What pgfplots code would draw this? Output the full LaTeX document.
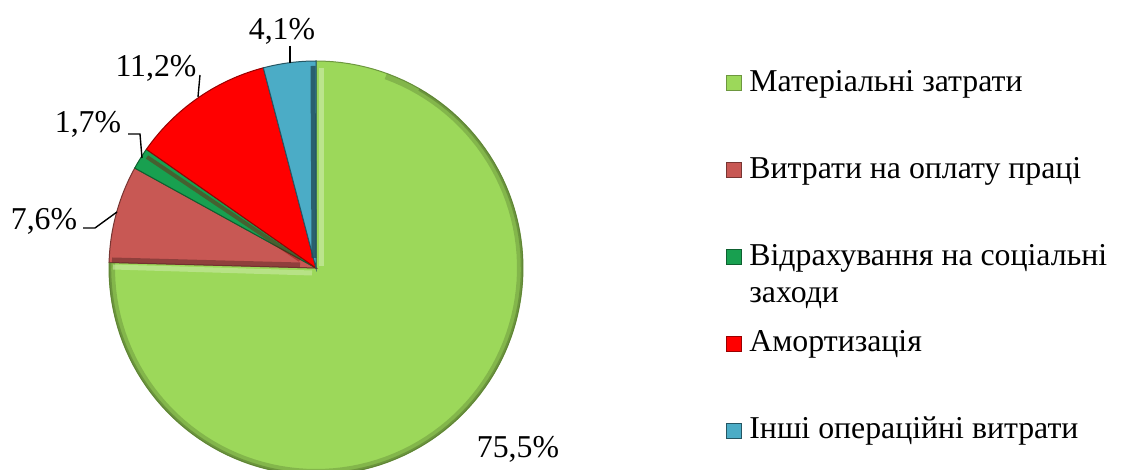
\documentclass[border=0pt]{standalone}
\usepackage{fontspec}
\setmainfont{Liberation Serif}
\usepackage{pgfplots}
\pgfplotsset{compat=1.18}
\definecolor{cGreen}{RGB}{156,216,90}
\definecolor{cBrown}{RGB}{200,88,84}
\definecolor{cDkGreen}{RGB}{24,160,80}
\definecolor{cRed}{RGB}{255,0,0}
\definecolor{cBlue}{RGB}{75,172,198}
\begin{document}
\begin{tikzpicture}[font=\fontsize{15.9}{18.5}\selectfont]
% shares, %
\def\vA{75.5}\def\vB{7.6}\def\vC{1.7}\def\vD{11.2}\def\vE{4.1}
\pgfmathsetmacro\tot{\vA+\vB+\vC+\vD+\vE}
\pgfmathsetmacro\aA{90-\vA/\tot*360}
\pgfmathsetmacro\aB{\aA-\vB/\tot*360}
\pgfmathsetmacro\aC{\aB-\vC/\tot*360}
\pgfmathsetmacro\aD{\aC-\vD/\tot*360}
\pgfmathsetmacro\aE{\aD-\vE/\tot*360}
\def\cx{316}\def\cy{202}\def\R{207}
\begin{axis}[
  name=ax,
  width=562.5pt, height=235pt, scale only axis,
  xmin=0, xmax=1125, ymin=0, ymax=470,
  hide axis,
  legend image code/.code={\fill[#1] (0pt,-5.5pt) rectangle (7.5pt,2pt);},
  legend style={at={(axis cs:726,405)}, anchor=north west, draw=none, fill=none,
     row sep=29pt, column sep=3.5pt, inner sep=0pt, cells={anchor=west},
     nodes={inner sep=0pt}},
  legend cell align=left,
]
\addplot[fill=cGreen, draw=cGreen!70!black, line width=0.5pt, domain=90:\aA, samples=120]
  ({\cx+\R*cos(x)},{\cy+\R*sin(x)}) -- (axis cs:\cx,\cy) -- cycle;
\addlegendentry{\strut Матеріальні затрати}
\addplot[fill=cBrown, draw=cBrown!60!black, line width=0.5pt, domain=\aA:\aB, samples=20]
  ({\cx+\R*cos(x)},{\cy+\R*sin(x)}) -- (axis cs:\cx,\cy) -- cycle;
\addlegendentry{\strut Витрати на оплату праці}
\addplot[fill=cDkGreen, draw=cDkGreen!60!black, line width=0.5pt, domain=\aB:\aC, samples=8]
  ({\cx+\R*cos(x)},{\cy+\R*sin(x)}) -- (axis cs:\cx,\cy) -- cycle;
\addlegendentry{\strut\smash{\begin{tabular}[t]{@{}l@{}}Відрахування на соціальні\\заходи\end{tabular}}}
\addplot[fill=cRed, draw=cRed!60!black, line width=0.5pt, domain=\aC:\aD, samples=30]
  ({\cx+\R*cos(x)},{\cy+\R*sin(x)}) -- (axis cs:\cx,\cy) -- cycle;
\addlegendentry{\strut Амортизація}
\addplot[fill=cBlue, draw=cBlue!50!black, line width=0.5pt, domain=\aD:\aE, samples=12]
  ({\cx+\R*cos(x)},{\cy+\R*sin(x)}) -- (axis cs:\cx,\cy) -- cycle;
\addlegendentry{\strut Інші операційні витрати}
% darker rim of the large slice
\addplot[forget plot, draw=cGreen!55!black, opacity=0.35, line width=3pt, domain=70:\aA, samples=100]
  ({\cx+(\R-3)*cos(x)},{\cy+(\R-3)*sin(x)});
\addplot[forget plot, draw=cGreen!55!black, opacity=0.5, line width=1.2pt, domain=60:\aA, samples=100]
  ({\cx+(\R-1)*cos(x)},{\cy+(\R-1)*sin(x)});
% bevel hints
\addplot[forget plot, draw=cGreen!55!white, opacity=0.7, line width=2.5pt] coordinates {(321,402) (321,204)};
\addplot[forget plot, draw=cGreen!55!white, opacity=0.6, line width=2.5pt] coordinates {(113,203) (312,197)};
\addplot[forget plot, draw=cBlue!45!black, opacity=0.8, line width=2.5pt] coordinates {(313,404) (314,212)};
\addplot[forget plot, draw=cBrown!45!black, opacity=0.5, line width=2.5pt] coordinates {(112,210) (300,205)};
\addplot[forget plot, draw=cRed!55!black, opacity=0.4, line width=2pt] coordinates {(147,313) (300,210)};
% leader lines
\addplot[forget plot, black, line width=0.7pt] coordinates {(290,424) (290,407)};
\addplot[forget plot, black, line width=0.7pt] coordinates {(200,395) (198,373)};
\addplot[forget plot, black, line width=0.7pt] coordinates {(128,336) (140,336) (142,312)};
\addplot[forget plot, black, line width=0.7pt] coordinates {(83,242) (95,242) (117,258)};
% data labels
\node[anchor=base, inner sep=0pt] at (axis cs:282,430) {4,1\%};
\node[anchor=base, inner sep=0pt] at (axis cs:156,393) {11,2\%};
\node[anchor=base, inner sep=0pt] at (axis cs:88,337) {1,7\%};
\node[anchor=base, inner sep=0pt] at (axis cs:44,240) {7,6\%};
\node[anchor=base, inner sep=0pt] at (axis cs:518,12) {75,5\%};
\end{axis}
\pgfresetboundingbox
\useasboundingbox (ax.south west) rectangle (ax.north east);
\end{tikzpicture}
\end{document}
